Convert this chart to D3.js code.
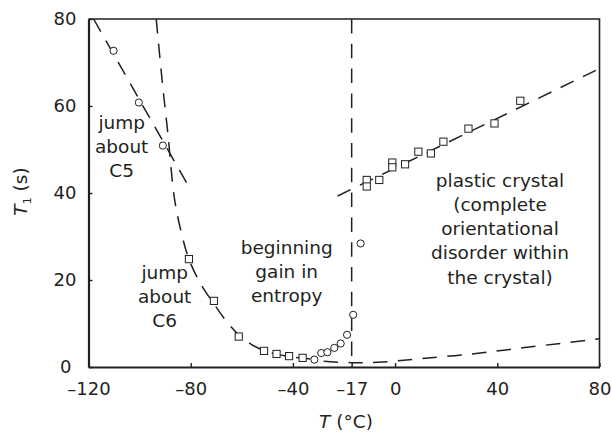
<html>
<head>
<meta charset="utf-8">
<style>
  body { margin: 0; background: #fff; }
  text { font-family: "DejaVu Sans", sans-serif; fill: #231f20; }
  .note { font-size: 18.5px; }
  .axis text { font-size: 18px; }
  .fit { fill: none; stroke: #231f20; stroke-width: 1.5; stroke-dasharray: 14.5,10.3; }
  .mk { fill: #fff; stroke: #231f20; stroke-width: 1; }
</style>
<script src="https://d3js.org/d3.v7.min.js"></script>
</head>
<body>
<svg width="612" height="433"></svg>
<script>
// tick values
var xTicks = [-120, -80, -40, -17, 0, 40, 80];
var yTicks = [0, 20, 40, 60, 80];

// measured points (T in degC, T1 in s)
var c5Circles = [[-110.2, 72.7], [-100.3, 60.8], [-90.9, 50.9]];
var lowCircles = [[-31.6, 1.7], [-28.9, 3.2], [-26.5, 3.4], [-23.8, 4.4], [-21.3, 5.4],
                  [-18.8, 7.4], [-16.4, 12.0], [-13.5, 28.4]];
var c6Squares = [[-80.7, 24.8], [-70.9, 15.2], [-61.2, 7.0], [-51.3, 3.7], [-46.4, 3.0],
                 [-41.5, 2.5], [-36.2, 2.1]];
var plasticSquares = [[-11.1, 43.0], [-11.1, 41.5], [-6.2, 43.0], [-1.1, 47.0], [-1.1, 45.9],
                      [3.9, 46.6], [9.1, 49.5], [14.0, 49.1], [18.9, 51.8], [28.7, 54.8],
                      [38.9, 56.0], [49.0, 61.2]];

// dashed guide curves
var c5Line = [[-118, 80], [-80.4, 41.1]];
var c6Curve = [[-93.5, 80], [-91.2, 66], [-89, 54], [-86.3, 38.5], [-83.5, 30.5], [-80.7, 24.8],
               [-76, 19], [-71, 14.6], [-66, 10.5], [-61, 7.3], [-56, 5.1], [-51, 3.7],
               [-46, 2.9], [-41, 2.4], [-36, 2.0], [-31, 1.7]];
var plasticLine = [[-22.5, 39.3], [80, 68.6]];
var lowCurve = [[-28, 1.3], [-17, 1.0], [-5, 1.15], [10, 1.9], [30, 3.0], [50, 4.4], [80, 6.5]];
var transitionLine = [[-17, 80], [-17, 0]];

var svg = d3.select("svg");
var x = d3.scaleLinear().domain([-120, 80]).range([88.5, 599.5]);
var y = d3.scaleLinear().domain([0, 80]).range([367, 19]);

var line = d3.line().x(function(d) { return x(d[0]); }).y(function(d) { return y(d[1]); });
var smooth = d3.line().curve(d3.curveCatmullRom.alpha(0.5))
    .x(function(d) { return x(d[0]); }).y(function(d) { return y(d[1]); });

// frame top / right
svg.append("path")
    .attr("d", "M" + x(-120) + "," + y(80) + "H" + x(80) + "V" + y(0))
    .attr("fill", "none").attr("stroke", "#231f20").attr("stroke-width", 1.6);

// fitted dashed lines
[c5Line, plasticLine, transitionLine].forEach(function(p) {
    svg.append("path").attr("class", "fit").attr("d", line(p));
});
[c6Curve, lowCurve].forEach(function(p) {
    svg.append("path").attr("class", "fit").attr("d", smooth(p));
});

// markers
svg.selectAll(".circ")
    .data(c5Circles.concat(lowCircles))
    .enter().append("circle")
    .attr("class", "mk")
    .attr("cx", function(d) { return x(d[0]); })
    .attr("cy", function(d) { return y(d[1]); })
    .attr("r", 3.6);

svg.selectAll(".sq")
    .data(c6Squares.concat(plasticSquares))
    .enter().append("rect")
    .attr("class", "mk")
    .attr("x", function(d) { return x(d[0]) - 3.6; })
    .attr("y", function(d) { return y(d[1]) - 3.6; })
    .attr("width", 7.2).attr("height", 7.2);

// axes (ticks point inward)
var fmt = function(d) { return d < 0 ? "\u2013" + Math.abs(d) : String(d); };
var gx = svg.append("g").attr("class", "axis")
    .attr("transform", "translate(0," + y(0) + ")")
    .call(d3.axisBottom(x).tickValues(xTicks).tickSizeInner(-4).tickSizeOuter(0).tickFormat(fmt));
gx.selectAll("text").attr("y", 28).attr("dy", 0);

var gy = svg.append("g").attr("class", "axis")
    .attr("transform", "translate(" + x(-120) + ",0)")
    .call(d3.axisLeft(y).tickValues(yTicks).tickSizeInner(-4).tickSizeOuter(0).tickFormat(fmt));
gy.selectAll("text").attr("x", -12);
gy.selectAll("text").filter(function(d) { return d === 0; }).attr("x", -17);

svg.selectAll(".axis .domain").attr("stroke", "#231f20").attr("stroke-width", 2.2);
svg.selectAll(".axis line").attr("stroke", "#231f20").attr("stroke-width", 1.4);
svg.selectAll(".axis text").attr("fill", "#231f20");

// axis titles
var xt = svg.append("text").attr("class", "note")
    .attr("x", 346).attr("y", 428).attr("text-anchor", "middle");
xt.append("tspan").attr("font-style", "italic").text("T");
xt.append("tspan").text(" (\u00b0C)");

var yt = svg.append("text").attr("class", "note")
    .attr("transform", "translate(27,191.5) rotate(-90)").attr("text-anchor", "middle");
yt.append("tspan").attr("font-style", "italic").text("T");
yt.append("tspan").attr("font-size", "11px").attr("dy", 4).text("1");
yt.append("tspan").attr("dy", -4).text(" (s)");

// annotations
function note(cx, y0, lines) {
    var t = svg.append("text").attr("class", "note").attr("text-anchor", "middle");
    lines.forEach(function(s, i) {
        t.append("tspan").attr("x", cx).attr("y", y0 + i * 24.2).text(s);
    });
}
note(121.7, 128.5, ["jump", "about", "C5"]);
note(164.7, 278.5, ["jump", "about", "C6"]);
note(286.7, 253.5, ["beginning", "gain in", "entropy"]);
note(500, 186.7, ["plastic crystal", "(complete", "orientational", "disorder within", "the crystal)"]);
</script>
</body>
</html>
